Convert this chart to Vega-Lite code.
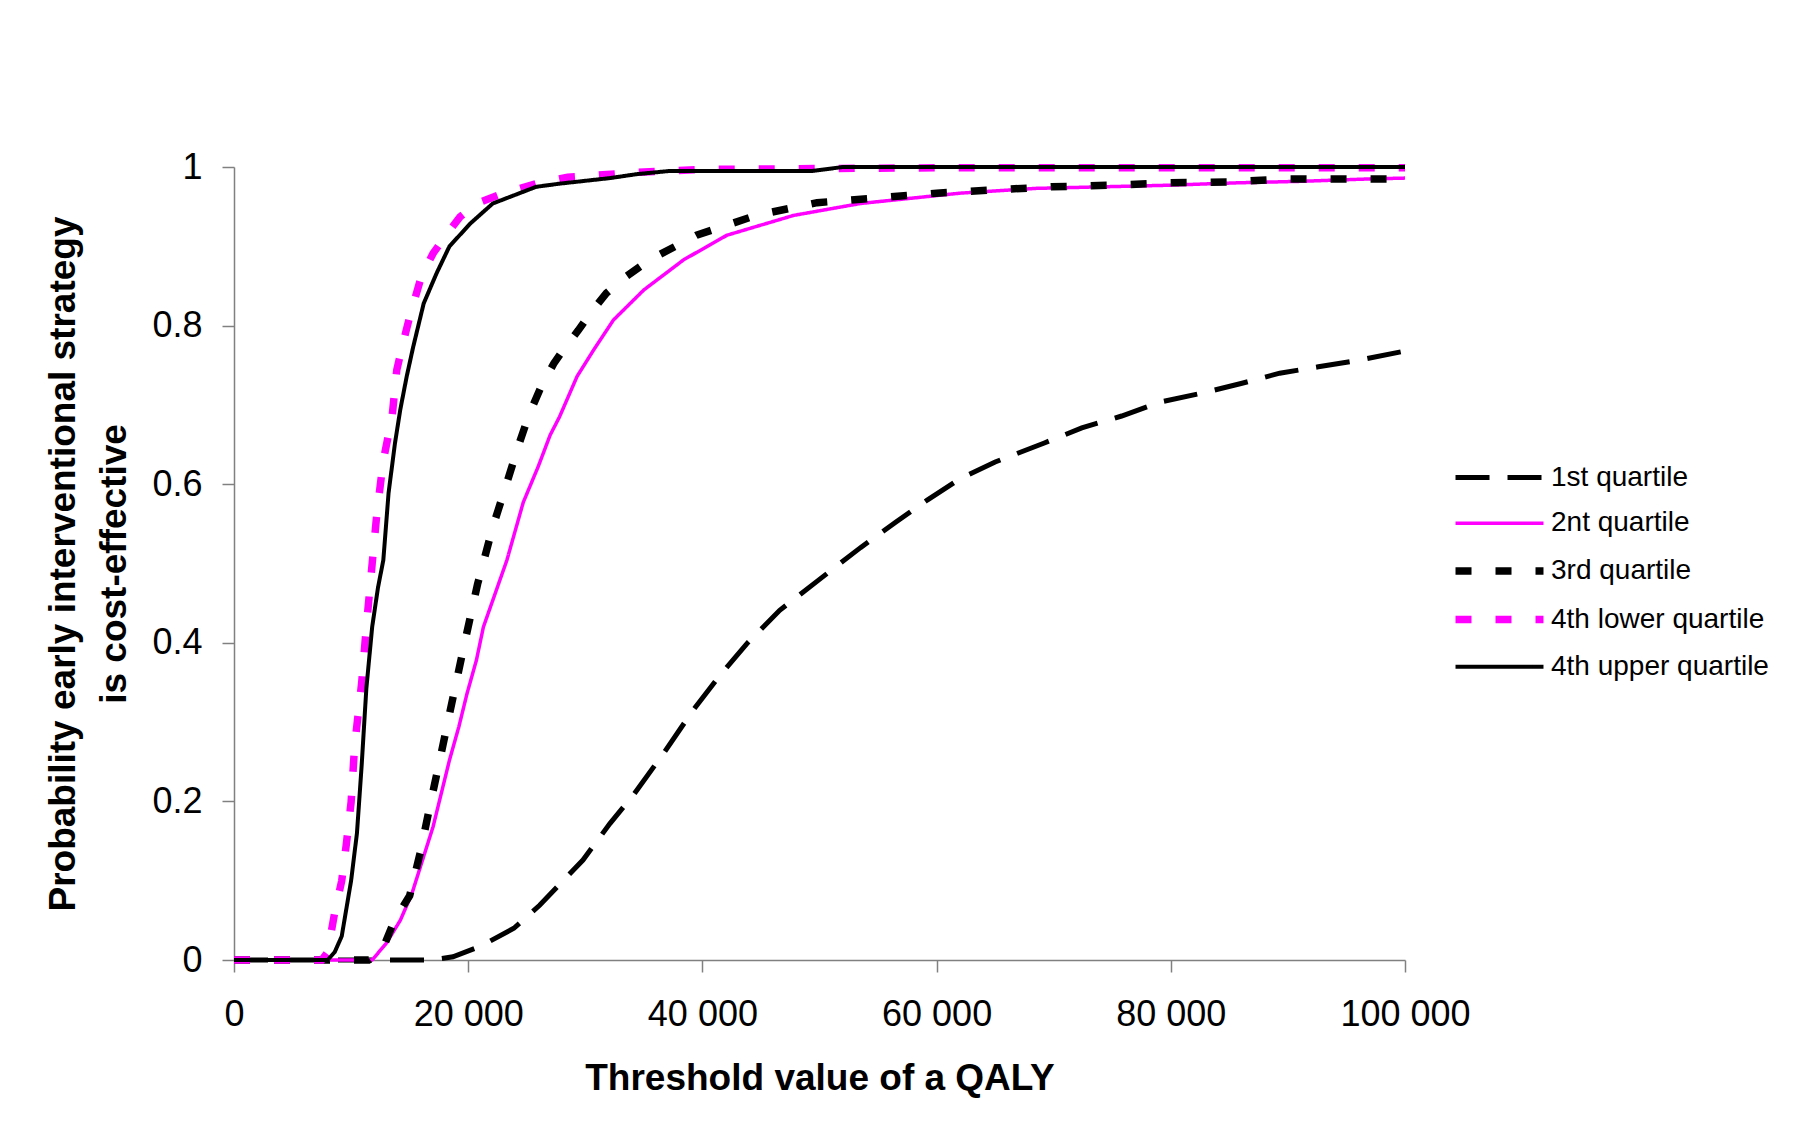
{
  "$schema": "https://vega.github.io/schema/vega-lite/v6.json",
  "width": 1171,
  "height": 793,
  "autosize": {"type": "none"},
  "padding": {"left": 234, "top": 167, "right": 389, "bottom": 185},
  "background": "white",
  "config": {
    "view": {"stroke": null},
    "font": "Liberation Sans",
    "legend": {
      "title": null,
      "orient": "none",
      "legendX": 1247,
      "legendY": 293,
      "padding": 0,
      "symbolType": "M-3,0H3",
      "symbolSize": 860,
      "rowPadding": 14.7,
      "labelFontSize": 28,
      "labelColor": "black",
      "labelFont": "Liberation Sans",
      "labelOffset": 33,
      "labelLimit": 400
    }
  },
  "data": {
    "values": [
      {"s": "1st quartile", "x": 0, "y": 0},
      {"s": "1st quartile", "x": 16800, "y": 0},
      {"s": "1st quartile", "x": 18700, "y": 0.004},
      {"s": "1st quartile", "x": 21000, "y": 0.017},
      {"s": "1st quartile", "x": 23900, "y": 0.04},
      {"s": "1st quartile", "x": 26100, "y": 0.069},
      {"s": "1st quartile", "x": 29800, "y": 0.126},
      {"s": "1st quartile", "x": 32100, "y": 0.172},
      {"s": "1st quartile", "x": 34100, "y": 0.208},
      {"s": "1st quartile", "x": 36700, "y": 0.261},
      {"s": "1st quartile", "x": 39200, "y": 0.315},
      {"s": "1st quartile", "x": 41500, "y": 0.359},
      {"s": "1st quartile", "x": 43800, "y": 0.399},
      {"s": "1st quartile", "x": 46600, "y": 0.441},
      {"s": "1st quartile", "x": 50000, "y": 0.48},
      {"s": "1st quartile", "x": 53500, "y": 0.52},
      {"s": "1st quartile", "x": 56500, "y": 0.552},
      {"s": "1st quartile", "x": 59200, "y": 0.58},
      {"s": "1st quartile", "x": 62000, "y": 0.607},
      {"s": "1st quartile", "x": 65000, "y": 0.628},
      {"s": "1st quartile", "x": 69200, "y": 0.652},
      {"s": "1st quartile", "x": 72400, "y": 0.671},
      {"s": "1st quartile", "x": 75800, "y": 0.686},
      {"s": "1st quartile", "x": 79200, "y": 0.704},
      {"s": "1st quartile", "x": 82700, "y": 0.715},
      {"s": "1st quartile", "x": 86000, "y": 0.727},
      {"s": "1st quartile", "x": 89300, "y": 0.74},
      {"s": "1st quartile", "x": 92600, "y": 0.748},
      {"s": "1st quartile", "x": 95900, "y": 0.756},
      {"s": "1st quartile", "x": 100000, "y": 0.768},

      {"s": "2nt quartile", "x": 0, "y": 0},
      {"s": "2nt quartile", "x": 11800, "y": 0},
      {"s": "2nt quartile", "x": 13000, "y": 0.021},
      {"s": "2nt quartile", "x": 14200, "y": 0.05},
      {"s": "2nt quartile", "x": 15200, "y": 0.084},
      {"s": "2nt quartile", "x": 16100, "y": 0.126},
      {"s": "2nt quartile", "x": 17000, "y": 0.168},
      {"s": "2nt quartile", "x": 17700, "y": 0.21},
      {"s": "2nt quartile", "x": 18400, "y": 0.252},
      {"s": "2nt quartile", "x": 19200, "y": 0.294},
      {"s": "2nt quartile", "x": 19900, "y": 0.336},
      {"s": "2nt quartile", "x": 20700, "y": 0.378},
      {"s": "2nt quartile", "x": 21300, "y": 0.42},
      {"s": "2nt quartile", "x": 22300, "y": 0.462},
      {"s": "2nt quartile", "x": 23300, "y": 0.504},
      {"s": "2nt quartile", "x": 24700, "y": 0.577},
      {"s": "2nt quartile", "x": 26000, "y": 0.623},
      {"s": "2nt quartile", "x": 27000, "y": 0.662},
      {"s": "2nt quartile", "x": 27800, "y": 0.685},
      {"s": "2nt quartile", "x": 29300, "y": 0.736},
      {"s": "2nt quartile", "x": 30700, "y": 0.769},
      {"s": "2nt quartile", "x": 32400, "y": 0.807},
      {"s": "2nt quartile", "x": 35000, "y": 0.845},
      {"s": "2nt quartile", "x": 38400, "y": 0.883},
      {"s": "2nt quartile", "x": 42100, "y": 0.914},
      {"s": "2nt quartile", "x": 47800, "y": 0.939},
      {"s": "2nt quartile", "x": 53500, "y": 0.954},
      {"s": "2nt quartile", "x": 62000, "y": 0.967},
      {"s": "2nt quartile", "x": 68400, "y": 0.973},
      {"s": "2nt quartile", "x": 74100, "y": 0.975},
      {"s": "2nt quartile", "x": 79800, "y": 0.977},
      {"s": "2nt quartile", "x": 85600, "y": 0.98},
      {"s": "2nt quartile", "x": 91300, "y": 0.982},
      {"s": "2nt quartile", "x": 97000, "y": 0.985},
      {"s": "2nt quartile", "x": 100000, "y": 0.986},

      {"s": "3rd quartile", "x": 0, "y": 0},
      {"s": "3rd quartile", "x": 11500, "y": 0},
      {"s": "3rd quartile", "x": 12300, "y": 0.008},
      {"s": "3rd quartile", "x": 12900, "y": 0.021},
      {"s": "3rd quartile", "x": 13700, "y": 0.05},
      {"s": "3rd quartile", "x": 15000, "y": 0.081},
      {"s": "3rd quartile", "x": 15900, "y": 0.135},
      {"s": "3rd quartile", "x": 16800, "y": 0.199},
      {"s": "3rd quartile", "x": 17800, "y": 0.268},
      {"s": "3rd quartile", "x": 18800, "y": 0.338},
      {"s": "3rd quartile", "x": 19800, "y": 0.407},
      {"s": "3rd quartile", "x": 20800, "y": 0.474},
      {"s": "3rd quartile", "x": 22100, "y": 0.546},
      {"s": "3rd quartile", "x": 23200, "y": 0.597},
      {"s": "3rd quartile", "x": 24300, "y": 0.649},
      {"s": "3rd quartile", "x": 25200, "y": 0.688},
      {"s": "3rd quartile", "x": 26200, "y": 0.722},
      {"s": "3rd quartile", "x": 27300, "y": 0.752},
      {"s": "3rd quartile", "x": 28100, "y": 0.769},
      {"s": "3rd quartile", "x": 29400, "y": 0.794},
      {"s": "3rd quartile", "x": 30400, "y": 0.815},
      {"s": "3rd quartile", "x": 31800, "y": 0.841},
      {"s": "3rd quartile", "x": 33500, "y": 0.862},
      {"s": "3rd quartile", "x": 35500, "y": 0.883},
      {"s": "3rd quartile", "x": 39500, "y": 0.914},
      {"s": "3rd quartile", "x": 44600, "y": 0.939},
      {"s": "3rd quartile", "x": 49800, "y": 0.955},
      {"s": "3rd quartile", "x": 54900, "y": 0.961},
      {"s": "3rd quartile", "x": 60000, "y": 0.967},
      {"s": "3rd quartile", "x": 64700, "y": 0.971},
      {"s": "3rd quartile", "x": 69800, "y": 0.975},
      {"s": "3rd quartile", "x": 74900, "y": 0.977},
      {"s": "3rd quartile", "x": 79800, "y": 0.98},
      {"s": "3rd quartile", "x": 84900, "y": 0.981},
      {"s": "3rd quartile", "x": 89800, "y": 0.985},
      {"s": "3rd quartile", "x": 100000, "y": 0.985},

      {"s": "4th lower quartile", "x": 0, "y": 0},
      {"s": "4th lower quartile", "x": 7500, "y": 0},
      {"s": "4th lower quartile", "x": 8000, "y": 0.01},
      {"s": "4th lower quartile", "x": 8600, "y": 0.06},
      {"s": "4th lower quartile", "x": 9200, "y": 0.10},
      {"s": "4th lower quartile", "x": 9600, "y": 0.147},
      {"s": "4th lower quartile", "x": 10000, "y": 0.199},
      {"s": "4th lower quartile", "x": 10300, "y": 0.27},
      {"s": "4th lower quartile", "x": 10900, "y": 0.349},
      {"s": "4th lower quartile", "x": 11300, "y": 0.42},
      {"s": "4th lower quartile", "x": 11800, "y": 0.50},
      {"s": "4th lower quartile", "x": 12200, "y": 0.563},
      {"s": "4th lower quartile", "x": 12750, "y": 0.63},
      {"s": "4th lower quartile", "x": 13500, "y": 0.685},
      {"s": "4th lower quartile", "x": 13900, "y": 0.744},
      {"s": "4th lower quartile", "x": 14500, "y": 0.782},
      {"s": "4th lower quartile", "x": 15000, "y": 0.811},
      {"s": "4th lower quartile", "x": 16000, "y": 0.862},
      {"s": "4th lower quartile", "x": 17000, "y": 0.891},
      {"s": "4th lower quartile", "x": 18200, "y": 0.916},
      {"s": "4th lower quartile", "x": 19300, "y": 0.937},
      {"s": "4th lower quartile", "x": 20700, "y": 0.954},
      {"s": "4th lower quartile", "x": 23000, "y": 0.967},
      {"s": "4th lower quartile", "x": 25800, "y": 0.979},
      {"s": "4th lower quartile", "x": 28500, "y": 0.987},
      {"s": "4th lower quartile", "x": 34200, "y": 0.993},
      {"s": "4th lower quartile", "x": 40000, "y": 0.997},
      {"s": "4th lower quartile", "x": 60000, "y": 0.999},
      {"s": "4th lower quartile", "x": 100000, "y": 0.999},

      {"s": "4th upper quartile", "x": 0, "y": 0},
      {"s": "4th upper quartile", "x": 8000, "y": 0},
      {"s": "4th upper quartile", "x": 8600, "y": 0.01},
      {"s": "4th upper quartile", "x": 9200, "y": 0.03},
      {"s": "4th upper quartile", "x": 10000, "y": 0.10},
      {"s": "4th upper quartile", "x": 10500, "y": 0.16},
      {"s": "4th upper quartile", "x": 10900, "y": 0.245},
      {"s": "4th upper quartile", "x": 11300, "y": 0.342},
      {"s": "4th upper quartile", "x": 11800, "y": 0.42},
      {"s": "4th upper quartile", "x": 12300, "y": 0.47},
      {"s": "4th upper quartile", "x": 12750, "y": 0.504},
      {"s": "4th upper quartile", "x": 13200, "y": 0.589},
      {"s": "4th upper quartile", "x": 13750, "y": 0.652},
      {"s": "4th upper quartile", "x": 14200, "y": 0.694},
      {"s": "4th upper quartile", "x": 14750, "y": 0.736},
      {"s": "4th upper quartile", "x": 15300, "y": 0.773},
      {"s": "4th upper quartile", "x": 16200, "y": 0.828},
      {"s": "4th upper quartile", "x": 17300, "y": 0.866},
      {"s": "4th upper quartile", "x": 18400, "y": 0.9},
      {"s": "4th upper quartile", "x": 20200, "y": 0.929},
      {"s": "4th upper quartile", "x": 22100, "y": 0.954},
      {"s": "4th upper quartile", "x": 25800, "y": 0.975},
      {"s": "4th upper quartile", "x": 27800, "y": 0.979},
      {"s": "4th upper quartile", "x": 32100, "y": 0.986},
      {"s": "4th upper quartile", "x": 34400, "y": 0.991},
      {"s": "4th upper quartile", "x": 37200, "y": 0.995},
      {"s": "4th upper quartile", "x": 49400, "y": 0.995},
      {"s": "4th upper quartile", "x": 52000, "y": 1},
      {"s": "4th upper quartile", "x": 100000, "y": 1}
    ]
  },
  "mark": {"type": "line", "strokeCap": "butt", "strokeJoin": "miter"},
  "encoding": {
    "x": {
      "field": "x",
      "type": "quantitative",
      "scale": {"domain": [0, 100000], "nice": false, "zero": false},
      "axis": {
        "title": "Threshold value of a QALY",
        "values": [0, 20000, 40000, 60000, 80000, 100000],
        "labelExpr": "replace(format(datum.value, ','), ',', ' ')",
        "labelFlush": false,
        "labelOverlap": false,
        "grid": false,
        "domainColor": "#808080",
        "domainWidth": 1.5,
        "tickColor": "#808080",
        "tickWidth": 1.5,
        "tickSize": 12,
        "labelFontSize": 36,
        "labelColor": "black",
        "labelPadding": 25,
        "labelFont": "Liberation Sans",
        "titleFont": "Liberation Sans",
        "titleFontSize": 37,
        "titleFontWeight": "bold",
        "titleColor": "black",
        "titlePadding": 28
      }
    },
    "y": {
      "field": "y",
      "type": "quantitative",
      "scale": {"domain": [0, 1], "nice": false},
      "axis": {
        "title": ["Probability early interventional strategy", "is cost-effective"],
        "values": [0, 0.2, 0.4, 0.6, 0.8, 1],
        "format": "~g",
        "labelFlush": false,
        "labelOverlap": false,
        "grid": false,
        "domainColor": "#808080",
        "domainWidth": 1.5,
        "tickColor": "#808080",
        "tickWidth": 1.5,
        "tickSize": 12,
        "labelFontSize": 36,
        "labelColor": "black",
        "labelPadding": 20,
        "labelFont": "Liberation Sans",
        "titleFont": "Liberation Sans",
        "titleFontSize": 37,
        "titleFontWeight": "bold",
        "titleColor": "black",
        "titleLineHeight": 51,
        "titlePadding": 18
      }
    },
    "color": {
      "field": "s",
      "type": "nominal",
      "scale": {
        "domain": ["1st quartile", "2nt quartile", "3rd quartile", "4th lower quartile", "4th upper quartile"],
        "range": ["#000000", "#FF00FF", "#000000", "#FF00FF", "#000000"]
      }
    },
    "strokeDash": {
      "field": "s",
      "type": "nominal",
      "scale": {
        "domain": ["1st quartile", "2nt quartile", "3rd quartile", "4th lower quartile", "4th upper quartile"],
        "range": [[34, 18], [1, 0], [16, 24], [16, 24], [1, 0]]
      }
    },
    "strokeWidth": {
      "field": "s",
      "type": "nominal",
      "scale": {
        "type": "ordinal",
        "domain": ["1st quartile", "2nt quartile", "3rd quartile", "4th lower quartile", "4th upper quartile"],
        "range": [5, 3.5, 7.5, 7.5, 4]
      }
    }
  }
}
